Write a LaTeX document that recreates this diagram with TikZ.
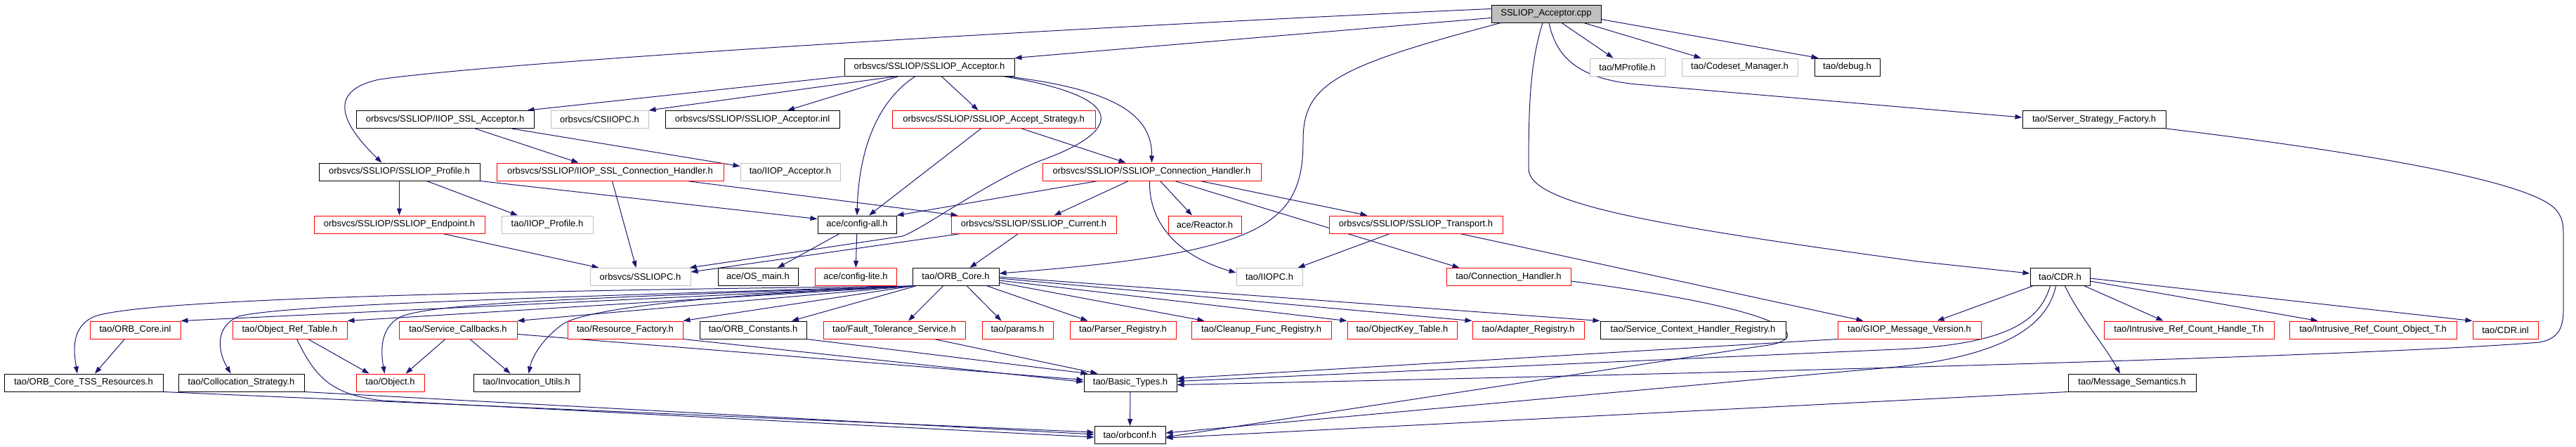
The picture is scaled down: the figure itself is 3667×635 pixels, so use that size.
\documentclass[tikz,border=0pt]{standalone}
\usepackage{fontspec}
\setmainfont{Liberation Sans}
\usetikzlibrary{arrows.meta}
\usetikzlibrary{calc}
\definecolor{edgeblue}{RGB}{25,25,112}
\definecolor{boxgray}{RGB}{191,191,191}
\pgfdeclarelayer{background}
\pgfsetlayers{background,main}
\tikzset{
  hfile/.style={draw=black, fill=white, line width=1pt, minimum width=#1, minimum height=25pt, inner sep=0pt, font=\fontsize{13}{15}\selectfont},
  hred/.style={hfile=#1, draw=red},
  hgray/.style={hfile=#1, draw=boxgray},
  hroot/.style={hfile=#1, fill=boxgray},
  dep/.style={draw=edgeblue, line width=1pt, -{Triangle[length=10pt,width=7pt]}}
}
\begin{document}
\begin{tikzpicture}[x=1pt,y=-1pt]
      \useasboundingbox (0,0) rectangle (3667,635);

      \node [hroot=156pt] (cpp) at (2201,19.5) {SSLIOP\_Acceptor.cpp};

      \node [hfile=242pt] (accH) at (1323,95.5) {orbsvcs/SSLIOP/SSLIOP\_Acceptor.h};
      \node [hgray=107pt] (mprof) at (2316.5,95.5) {tao/MProfile.h};
      \node [hgray=165pt] (codeset) at (2476.5,95.5) {tao/Codeset\_Manager.h};
      \node [hfile=93pt] (debug) at (2629.5,95.5) {tao/debug.h};

      \node [hfile=253pt] (iiopAcc) at (633.5,170) {orbsvcs/SSLIOP/IIOP\_SSL\_Acceptor.h};
      \node [hgray=139pt] (csiiop) at (853.5,170) {orbsvcs/CSIIOPC.h};
      \node [hfile=248pt] (accInl) at (1071,170) {orbsvcs/SSLIOP/SSLIOP\_Acceptor.inl};
      \node [hred=289pt] (strat) at (1414.5,170) {orbsvcs/SSLIOP/SSLIOP\_Accept\_Strategy.h};
      \node [hfile=204pt] (ssf) at (2981,170) {tao/Server\_Strategy\_Factory.h};

      \node [hfile=229pt] (prof) at (568.5,244.5) {orbsvcs/SSLIOP/SSLIOP\_Profile.h};
      \node [hred=323pt] (iiopConn) at (868.5,244.5) {orbsvcs/SSLIOP/IIOP\_SSL\_Connection\_Handler.h};
      \node [hgray=142pt] (iiopAcceptor) at (1125,244.5) {tao/IIOP\_Acceptor.h};
      \node [hred=311pt] (conn) at (1639.5,244.5) {orbsvcs/SSLIOP/SSLIOP\_Connection\_Handler.h};

      \node [hred=243pt] (endp) at (568.5,319.5) {orbsvcs/SSLIOP/SSLIOP\_Endpoint.h};
      \node [hgray=130pt] (iiopProf) at (779,319.5) {tao/IIOP\_Profile.h};
      \node [hfile=112pt] (cfgAll) at (1220,319.5) {ace/config-all.h};
      \node [hred=235pt] (cur) at (1471.5,319.5) {orbsvcs/SSLIOP/SSLIOP\_Current.h};
      \node [hred=104pt] (reactor) at (1715,319.5) {ace/Reactor.h};
      \node [hred=247pt] (transp) at (2015.5,319.5) {orbsvcs/SSLIOP/SSLIOP\_Transport.h};

      \node [hgray=143pt] (sslc) at (911.5,394) {orbsvcs/SSLIOPC.h};
      \node [hfile=114pt] (osmain) at (1079,394) {ace/OS\_main.h};
      \node [hred=116pt] (cfgLite) at (1218,394) {ace/config-lite.h};
      \node [hfile=123pt] (orbCore) at (1360.5,394) {tao/ORB\_Core.h};
      \node [hgray=94pt] (iiopc) at (1807,394) {tao/IIOPC.h};
      \node [hred=177pt] (connH) at (2147.5,394) {tao/Connection\_Handler.h};
      \node [hfile=85pt] (cdr) at (2932.5,394) {tao/CDR.h};

      \node [hred=129pt] (coreInl) at (192.5,469.5) {tao/ORB\_Core.inl};
      \node [hred=163pt] (refTab) at (412.5,469.5) {tao/Object\_Ref\_Table.h};
      \node [hred=168pt] (svcCb) at (652,469.5) {tao/Service\_Callbacks.h};
      \node [hred=164pt] (resFac) at (890,469.5) {tao/Resource\_Factory.h};
      \node [hfile=152pt] (orbConst) at (1072,469.5) {tao/ORB\_Constants.h};
      \node [hred=202pt] (ftSvc) at (1273,469.5) {tao/Fault\_Tolerance\_Service.h};
      \node [hred=101pt] (params) at (1448.5,469.5) {tao/params.h};
      \node [hred=151pt] (parser) at (1598.5,469.5) {tao/Parser\_Registry.h};
      \node [hred=199pt] (cleanup) at (1795.5,469.5) {tao/Cleanup\_Func\_Registry.h};
      \node [hred=156pt] (okTab) at (1996,469.5) {tao/ObjectKey\_Table.h};
      \node [hred=159pt] (adapt) at (2175.5,469.5) {tao/Adapter\_Registry.h};
      \node [hfile=264pt] (scReg) at (2410,469.5) {tao/Service\_Context\_Handler\_Registry.h};
      \node [hred=204pt] (giop) at (2718,469.5) {tao/GIOP\_Message\_Version.h};
      \node [hred=242pt] (irHandle) at (3116,469.5) {tao/Intrusive\_Ref\_Count\_Handle\_T.h};
      \node [hred=238pt] (irObj) at (3378,469.5) {tao/Intrusive\_Ref\_Count\_Object\_T.h};
      \node [hred=93pt] (cdrInl) at (3566.5,469.5) {tao/CDR.inl};

      \node [hfile=226pt] (tss) at (119,544.5) {tao/ORB\_Core\_TSS\_Resources.h};
      \node [hfile=179pt] (colloc) at (343.5,544.5) {tao/Collocation\_Strategy.h};
      \node [hred=97pt] (obj) at (555.5,544.5) {tao/Object.h};
      \node [hfile=151pt] (invUtil) at (749.5,544.5) {tao/Invocation\_Utils.h};
      \node [hfile=132pt] (basic) at (1609,544.5) {tao/Basic\_Types.h};
      \node [hfile=182pt] (msgSem) at (3035,544.5) {tao/Message\_Semantics.h};

      \node [hfile=101pt] (orbconf) at (1608.5,619) {tao/orbconf.h};

      \begin{pgfonlayer}{background}
      \draw [dep] ($(cpp.west)+(0,6)$) -- (accH.north east);
      \draw [dep] ($(cpp.west)+(0,-7)$) .. controls (1400,45) and (700,90) .. (540,113) .. controls (470,128) and (480,170) .. ($(prof.north)+(-25,0)$);
      \draw [dep] ($(cpp.south west)+(14,0)$) .. controls (1900,95) and (1855,120) .. (1855,200) .. controls (1855,320) and (1800,360) .. ($(orbCore.east)+(0,-5)$);
      \draw [dep] ($(cpp.south)+(-5,0)$) .. controls (2178,90) and (2176,150) .. (2176,240) .. controls (2176,290) and (2350,320) .. (2730,372) -- ($(cdr.west)+(0,-5)$);
      \draw [dep] ($(cpp.south)+(4,0)$) .. controls (2215,80) and (2245,112) .. (2330,120) -- ($(ssf.west)+(0,-3)$);
      \draw [dep] ($(cpp.south)+(22,0)$) -- ($(mprof.north)+(-20,0)$);
      \draw [dep] ($(cpp.south east)+(-25,0)$) -- ($(codeset.north)+(-55,0)$);
      \draw [dep] ($(cpp.south east)+(0,-5)$) -- ($(debug.north west)+(6,0)$);

      \draw [dep] (accH.south west) -- ($(iiopAcc.north east)+(-10,0)$);
      \draw [dep] ($(accH.south west)+(75,0)$) -- (csiiop.north east);
      \draw [dep] ($(accH.south west)+(78,0)$) -- ($(accInl.north)+(50,0)$);
      \draw [dep] ($(accH.south)+(-20,0)$) .. controls (1240,150) and (1222,230) .. (cfgAll.north);
      \draw [dep] ($(accH.south)+(17,0)$) -- ($(strat.north west)+(123,0)$);
      \draw [dep] ($(accH.south east)+(-14,0)$) .. controls (1600,128) and (1640,170) .. (conn.north);
      \draw [dep] ($(accH.south east)+(-17,0)$) .. controls (1620,140) and (1590,190) .. (1480,229) .. controls (1400,262) and (1320,322) .. (1285,336) -- ($(sslc.north east)+(-2,0)$);

      \draw [dep] ($(iiopAcc.south)+(43,0)$) -- ($(iiopConn.north)+(-45,0)$);
      \draw [dep] ($(iiopAcc.south east)+(-32,0)$) -- ($(iiopAcceptor.west)+(0,-8)$);

      \draw [dep] (prof) -- (endp);
      \draw [dep] ($(prof.south)+(39,0)$) -- ($(iiopProf.north)+(-42,0)$);
      \draw [dep] (prof.south east) -- ($(cfgAll.west)+(0,-8)$);

      \draw [dep] ($(iiopConn.south)+(3,0)$) -- ($(sslc.north)+(-6,0)$);
      \draw [dep] ($(iiopConn.south east)+(-53,0)$) -- ($(cur.north west)+(10,0)$);
      \draw [dep] ($(endp.south)+(62,0)$) -- ($(sslc.north west)+(13,0)$);

      \draw [dep] ($(strat.south west)+(127,0)$) -- ($(cfgAll.north)+(17,0)$);
      \draw [dep] ($(strat.south west)+(185,0)$) -- ($(conn.north)+(-37,0)$);

      \draw [dep] ($(conn.south west)+(79,0)$) -- (cfgAll.north east);
      \draw [dep] ($(conn.south)+(-33,0)$) -- ($(cur.north)+(29,0)$);
      \draw [dep] ($(conn.south)+(12,0)$) -- ($(reactor.north)+(-18,0)$);
      \draw [dep] ($(conn.south)+(-3,0)$) .. controls (1635,320) and (1680,365) .. ($(iiopc.west)+(0,-6)$);
      \draw [dep] ($(conn.south east)+(-87,0)$) -- ($(transp.north west)+(55,0)$);
      \draw [dep] ($(conn.south)+(33,0)$) -- ($(connH.north)+(-70,0)$);

      \draw [dep] ($(cur.south)+(-22,0)$) -- ($(orbCore.north)+(20,0)$);
      \draw [dep] ($(cur.south west)+(14,0)$) -- ($(sslc.east)+(0,-7)$);
      \draw [dep] ($(cfgAll.south)+(-25,0)$) -- ($(osmain.north)+(28,0)$);
      \draw [dep] (cfgAll) -- (cfgLite);
      \draw [dep] ($(transp.south)+(-37,0)$) -- ($(iiopc.north east)+(-7,0)$);
      \draw [dep] ($(transp.south east)+(-61,0)$) -- ($(giop.north west)+(37,0)$);
      \draw [dep] ($(connH.east)+(0,6)$) .. controls (2580,445) and (2575,485) .. (2510,492) -- ($(orbconf.east)+(0,3)$);

      \draw [dep] (orbCore.south west) -- (coreInl.north east);
      \draw [dep] (orbCore.south west) .. controls (600,415) and (200,428) .. (135,450) .. controls (100,465) and (105,500) .. ($(tss.north)+(-9,0)$);
      \draw [dep] (orbCore.south west) .. controls (700,425) and (400,435) .. (340,450) .. controls (305,465) and (310,500) .. ($(colloc.north)+(-15,0)$);
      \draw [dep] (orbCore.south west) -- (refTab.north east);
      \draw [dep] (orbCore.south west) .. controls (800,425) and (620,432) .. (572,450) .. controls (540,465) and (542,500) .. ($(obj.north)+(-8,0)$);
      \draw [dep] (orbCore.south west) -- (svcCb.north east);
      \draw [dep] (orbCore.south west) .. controls (1000,420) and (830,440) .. (800,462) .. controls (775,480) and (758,505) .. ($(invUtil.north)+(3,0)$);
      \draw [dep] (orbCore.south west) -- (resFac.north east);
      \draw [dep] ($(orbCore.south west)+(5,0)$) -- ($(orbConst.north)+(55,0)$);
      \draw [dep] ($(orbCore.south)+(-18,0)$) -- ($(ftSvc.north)+(20,0)$);
      \draw [dep] ($(orbCore.south)+(16,0)$) -- ($(params.north)+(-23,0)$);
      \draw [dep] ($(orbCore.south east)+(-17,0)$) -- ($(parser.north)+(-50,0)$);
      \draw [dep] ($(orbCore.east)+(0,8)$) -- ($(cleanup.north west)+(19,0)$);
      \draw [dep] ($(orbCore.east)+(0,5)$) -- (okTab.north west);
      \draw [dep] ($(orbCore.east)+(0,2)$) -- (adapt.north west);
      \draw [dep] (orbCore.east) -- (scReg.north west);

      \draw [dep] ($(coreInl.south)+(-15,0)$) -- ($(tss.north)+(16,0)$);
      \draw [dep] ($(refTab.south)+(26,0)$) -- ($(obj.north)+(-30,0)$);
      \draw [dep] ($(refTab.south)+(10,0)$) .. controls (450,540) and (475,562) .. (545,570) -- ($(orbconf.west)+(0,3)$);
      \draw [dep] ($(svcCb.south)+(-18,0)$) -- ($(obj.north)+(22,0)$);
      \draw [dep] ($(svcCb.south)+(17,0)$) -- ($(invUtil.north)+(-23,0)$);
      \draw [dep] ($(svcCb.east)+(0,6)$) -- ($(basic.west)+(0,-4)$);
      \draw [dep] (resFac.south east) -- ($(basic.west)+(0,-1)$);
      \draw [dep] (orbConst.south east) -- ($(basic.north west)+(6,0)$);
      \draw [dep] ($(ftSvc.south)+(57,0)$) -- ($(basic.north west)+(20,0)$);
      \draw [dep] (tss.south east) -- ($(orbconf.west)+(0,-4)$);
      \draw [dep] (colloc.south east) -- ($(orbconf.west)+(0,-1)$);
      \draw [dep] (basic) -- (orbconf);

      \draw [dep] (giop.south west) -- ($(basic.east)+(0,-6)$);
      \draw [dep] ($(cdr.south)+(-14,0)$) .. controls (2905,450) and (2870,490) .. (2700,497) -- ($(basic.east)+(0,-2)$);
      \draw [dep] ($(cdr.south)+(-6,0)$) .. controls (2915,460) and (2860,505) .. (2700,522) -- ($(orbconf.east)+(0,-3)$);
      \draw [dep] ($(cdr.south west)+(4,0)$) -- ($(giop.north east)+(-63,0)$);
      \draw [dep] ($(cdr.south)+(7,0)$) .. controls (2960,450) and (2995,490) .. ($(msgSem.north)+(-17,0)$);
      \draw [dep] ($(cdr.south east)+(-8,0)$) -- ($(irHandle.north west)+(85,0)$);
      \draw [dep] ($(cdr.east)+(0,6)$) -- ($(irObj.north west)+(41,0)$);
      \draw [dep] ($(cdr.east)+(0,2)$) -- (cdrInl.north west);
      \draw [dep] (msgSem.south west) -- ($(orbconf.east)+(0,4)$);
      \draw [dep] (ssf.south east) .. controls (3350,215) and (3590,255) .. (3635,295) .. controls (3649,308) and (3649,320) .. (3649,340) -- (3649,440) .. controls (3649,470) and (3640,482) .. (3615,487) .. controls (3400,505) and (2600,528) .. ($(basic.east)+(0,3)$);
      \end{pgfonlayer}
    \end{tikzpicture}
\end{document}
